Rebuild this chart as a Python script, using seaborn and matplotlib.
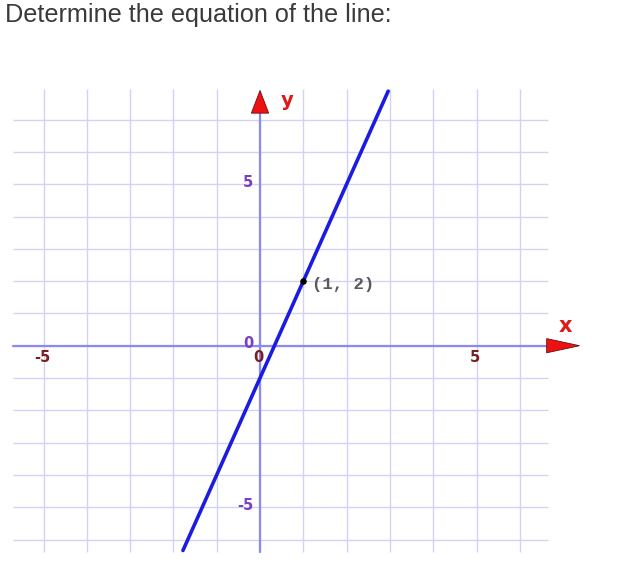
import matplotlib
matplotlib.use("Agg")
import matplotlib.pyplot as plt
import seaborn as sns
import pandas as pd
from matplotlib.patches import Polygon

# ---- data ----
line_x = [-1.78, 2.96]
line_y = [-6.34, 7.88]
point_x = [1]
point_y = [2]
point_label = "(1, 2)"
x_grid = [-5, -4, -3, -2, -1, 0, 1, 2, 3, 4, 5, 6]
y_grid = [-6, -5, -4, -3, -2, -1, 0, 1, 2, 3, 4, 5, 6, 7]
x_tick_vals = [-5, 0, 5]
x_tick_labels = ["-5", "0", "5"]
y_tick_vals = [-5, 0, 5]
y_tick_labels = ["-5", "0", "5"]
title = "Determine the equation of the line:"

sns.set_theme(style="white")
plt.rcParams['font.family'] = ['Liberation Sans', 'DejaVu Sans']

fig = plt.figure(figsize=(6.2, 5.7), dpi=100)
ax = fig.add_axes([0, 0, 1, 1])
ax.set_xlim(-6.005, 8.314)
ax.set_ylim(-6.944, 10.703)
ax.axis("off")

grid_c = "#d2d2f4"
ax.vlines(x_grid, -6.4, 7.95, colors=grid_c, lw=1.0, zorder=1)
ax.hlines(y_grid, -5.7, 6.65, colors=grid_c, lw=1.0, zorder=1)

axis_c = "#8a8af0"
ax.plot([-5.7, 6.62], [0, 0], color=axis_c, lw=1.6, zorder=2)
ax.plot([0, 0], [-6.4, 7.2], color=axis_c, lw=1.6, zorder=2)

# arrows
ax.add_patch(Polygon([[6.62, -0.22], [6.62, 0.22], [7.38, 0]], closed=True,
                     facecolor="#ee1111", edgecolor="#661111", lw=0.6, zorder=3))
ax.add_patch(Polygon([[-0.2, 7.2], [0.2, 7.2], [0, 7.9]], closed=True,
                     facecolor="#ee1111", edgecolor="#661111", lw=0.6, zorder=3))
ax.text(7.05, 0.62, "x", color="#e01818", fontsize=15, fontweight="bold",
        family="DejaVu Sans", ha="center", va="center")
ax.text(0.62, 7.6, "y", color="#e01818", fontsize=14, fontweight="bold",
        family="DejaVu Sans", ha="center", va="center")

# line and point
df_line = pd.DataFrame({"x": line_x, "y": line_y})
sns.lineplot(data=df_line, x="x", y="y", ax=ax, color="#1c1ce0", lw=2.6,
             zorder=4, sort=False)
df_pt = pd.DataFrame({"x": point_x, "y": point_y})
sns.scatterplot(data=df_pt, x="x", y="y", ax=ax, color="black", s=22,
                zorder=5, edgecolor="black", linewidth=0)
ax.text(point_x[0] + 0.2, point_y[0] - 0.1, point_label, family="Liberation Mono",
        fontsize=12.5, fontweight="bold", color="#5a5a5a", ha="left", va="center")

# tick labels
for v, t in zip(x_tick_vals, x_tick_labels):
    ax.text(v - 0.03, -0.37, t, color="#7a1f1f", fontsize=10.5, fontweight="bold",
            family="DejaVu Sans", ha="center", va="center")
for v, t in zip(y_tick_vals, y_tick_labels):
    ax.text(-0.15, v + 0.06, t, color="#7a3fc0", fontsize=10.5, fontweight="bold",
            family="DejaVu Sans", ha="right", va="center")

fig.text(5 / 620, 1 - 3 / 570, title, fontsize=18.2, color="#3a3a3a",
         ha="left", va="top", family="Liberation Sans")

fig.savefig("out.png", dpi=100)
